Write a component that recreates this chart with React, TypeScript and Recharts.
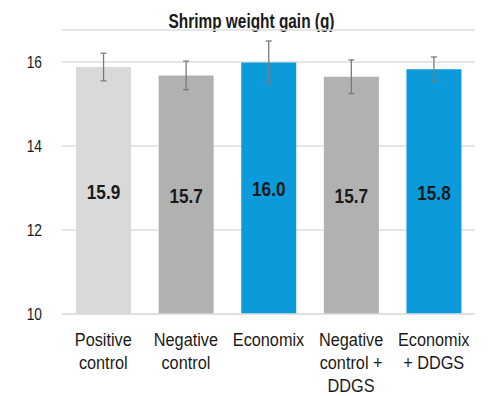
import { Bar, BarChart, CartesianGrid, XAxis, YAxis, ErrorBar, LabelList, Cell } from 'recharts'

const groups = ['Positive\ncontrol', 'Negative\ncontrol', 'Economix', 'Negative\ncontrol +\nDDGS', 'Economix\n+ DDGS']
const gain = [15.88, 15.68, 15.99, 15.65, 15.83]
const errors = [0.33, 0.34, 0.51, 0.4, 0.29]
const colors = ['#d9d9d9', '#b1b1b1', '#0b9bda', '#b1b1b1', '#0b9bda']
const yTicks = [10, 12, 14, 16]

const data = groups.map((g, i) => ({ group: g, gain: gain[i], err: errors[i] }))

// no narrow font installed, so squeeze Liberation Sans horizontally
const font = "'Liberation Sans', Arial, sans-serif"

function GroupTick(props: any) {
  const { x, y, payload } = props
  const lines = String(payload.value).split('\n')
  return (
    <g transform={`translate(${x},${y}) scale(0.88,1)`}>
      <text x={0} y={0} textAnchor="middle" fill="#1a1a1a" fontSize={18.5} fontFamily={font}>
        {lines.map((l, i) => (
          <tspan key={i} x={0} dy={i === 0 ? 24 : 23}>
            {l}
          </tspan>
        ))}
      </text>
    </g>
  )
}

function ValueTick(props: any) {
  const { x, y, payload } = props
  return (
    <g transform={`translate(${x},${y}) scale(0.86,1)`}>
      <text x={0} y={0} dy={5.5} textAnchor="end" fill="#1a1a1a" fontSize={16} fontFamily={font}>
        {payload.value}
      </text>
    </g>
  )
}

function BarValue(props: any) {
  const { x, y, width, height, value } = props
  const cx = Number(x) + Number(width) / 2
  const cy = Number(y) + Number(height) / 2
  return (
    <g transform={`translate(${cx},${cy}) scale(0.84,1)`}>
      <text x={0} y={0} dy={8} textAnchor="middle" fill="#1a1a1a" fontSize={20.5} fontWeight="bold" fontFamily={font}>
        {Number(value).toFixed(1)}
      </text>
    </g>
  )
}

export default function App() {
  return (
    <div style={{ position: 'absolute', left: 0, top: 0, width: 492, height: 396, background: '#fff' }}>
      <div
        style={{
          position: 'absolute',
          top: 10,
          left: 0,
          width: 503,
          textAlign: 'center',
          fontFamily: font,
          fontWeight: 'bold',
          fontSize: 20,
          color: '#1a1a1a',
          transform: 'scaleX(0.77)',
          transformOrigin: '251.5px 0',
        }}
      >
        Shrimp weight gain (g)
      </div>
      <BarChart
        width={492}
        height={396}
        data={data}
        margin={{ top: 30, right: 17, left: 0, bottom: 7 }}
        barCategoryGap="17%"
      >
        <CartesianGrid vertical={false} stroke="#dedede" strokeWidth={1.3} />
        <XAxis
          dataKey="group"
          interval={0}
          height={75}
          tick={<GroupTick />}
          tickLine={false}
          axisLine={{ stroke: '#dedede', strokeWidth: 1.3 }}
        />
        <YAxis
          domain={[10, 16.762]}
          ticks={yTicks}
          width={62}
          allowDataOverflow
          axisLine={false}
          tickLine={false}
          tickMargin={14}
          tick={<ValueTick />}
        />
        <Bar dataKey="gain" isAnimationActive={false}>
          {data.map((_, i) => (
            <Cell key={i} fill={colors[i]} />
          ))}
          <LabelList dataKey="gain" content={<BarValue />} />
          <ErrorBar dataKey="err" width={3} stroke="#7a7a7a" strokeWidth={1.3} isAnimationActive={false} />
        </Bar>
      </BarChart>
    </div>
  )
}
